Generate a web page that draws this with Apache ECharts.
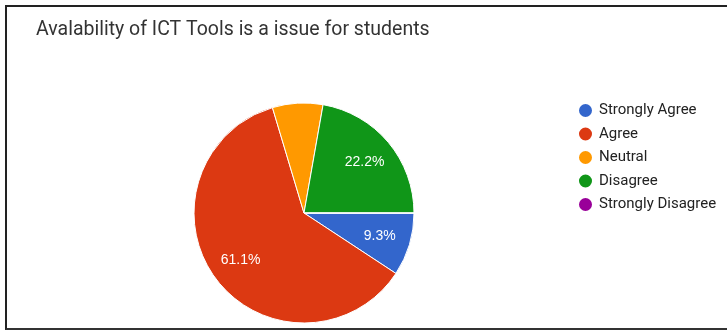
<!DOCTYPE html>
<html>
<head>
<meta charset="utf-8">
<script src="https://cdn.jsdelivr.net/npm/echarts@6/dist/echarts.min.js"></script>
<style>
html,body{margin:0;padding:0;background:#fff;}
#chart{position:absolute;left:0;top:0;width:727px;height:330px;}
#frame{position:absolute;left:5px;top:5px;width:740px;height:321px;border-top:2px solid #222;border-left:2px solid #222;border-bottom:2px solid #333;pointer-events:none;}
</style>
</head>
<body>
<div id="chart"></div>
<div id="frame"></div>
<script>
const titleText = 'Avalability of ICT Tools is a issue for students';
const categories = ['Strongly Agree', 'Agree', 'Neutral', 'Disagree', 'Strongly Disagree'];
const counts = [5, 33, 4, 12, 0];
const colors = ['#3366cc', '#dc3912', '#ff9900', '#109618', '#990099'];
const hiddenLabels = ['Neutral'];

const total = counts.reduce((a, b) => a + b, 0);
const pieData = categories.map((c, i) => ({ name: c, value: counts[i], itemStyle: { color: colors[i] } }));
const labelData = categories.map((c, i) => ({
  name: c, value: counts[i],
  itemStyle: { color: 'rgba(0,0,0,0)', borderWidth: 0 },
  label: { show: hiddenLabels.indexOf(c) < 0 && counts[i] > 0 }
}));

const chart = echarts.init(document.getElementById('chart'), null, { renderer: 'canvas' });
chart.setOption({
  animation: false,
  backgroundColor: '#fff',
  title: {
    text: titleText,
    left: 36, top: 20, padding: 0,
    textStyle: { fontFamily: 'Roboto', fontSize: 19.5, fontWeight: 'normal', color: '#333' }
  },
  legend: {
    orient: 'vertical',
    left: 577, top: 102, padding: 0,
    icon: 'circle',
    itemWidth: 15, itemHeight: 15, itemGap: 6.5,
    selectedMode: false,
    data: categories.map((c, i) => ({ name: c, itemStyle: { color: colors[i] } })),
    textStyle: { fontFamily: 'Roboto', fontSize: 15, color: '#222', padding: [0, 0, 0, 1] }
  },
  series: [
    {
      type: 'pie',
      center: [304, 213],
      radius: [0, 110],
      startAngle: 0,
      clockwise: true,
      silent: true,
      data: pieData,
      label: { show: false },
      labelLine: { show: false },
      itemStyle: { borderColor: '#fff', borderWidth: 1 }
    },
    {
      type: 'pie',
      center: [304, 213],
      radius: [42, 110],
      startAngle: 0,
      clockwise: true,
      silent: true,
      data: labelData,
      legendHoverLink: false,
      label: {
        position: 'inside',
        color: '#fff',
        fontFamily: 'Liberation Sans',
        fontSize: 14,
        formatter: p => (p.value / total * 100).toFixed(1) + '%'
      },
      labelLine: { show: false }
    }
  ]
});
</script>
</body>
</html>
